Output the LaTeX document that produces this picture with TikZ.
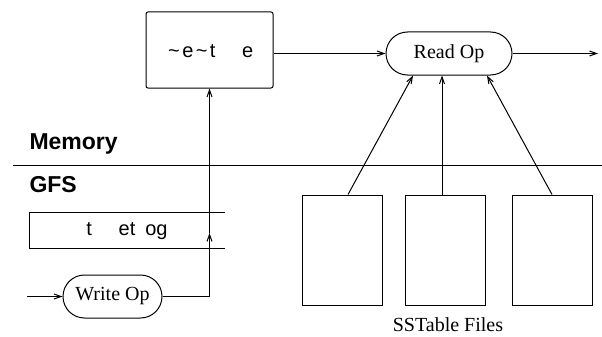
\documentclass[tikz,border=0pt]{standalone}
\usepackage{fontspec}
\setmainfont{Liberation Serif}
\newfontfamily\helv{Liberation Sans}
\usetikzlibrary{arrows.meta,calc}
\newcommand{\brokenm}{\makebox[0.83em]{\char"7E}}
\tikzset{
  fbox/.style={draw, line width=1pt, inner sep=0pt},
  opnode/.style={draw, line width=1pt, rounded corners=21.5pt, minimum height=43pt,
    inner sep=0pt, font=\fontsize{20}{24}\selectfont},
  layer/.style={anchor=base west, inner sep=0pt, font=\helv\bfseries\fontsize{23}{27}\selectfont},
}
\begin{document}
\begin{tikzpicture}[>={Straight Barb[length=7pt,width=5pt]},x=1pt,y=-1pt,line width=1pt]
  \useasboundingbox (0,0) rectangle (602,337);
  % memory side
  \node[fbox, rounded corners=2pt, minimum width=127pt, minimum height=76pt,
    font=\helv\fontsize{20}{24}\selectfont] (mem) at (209.5,50)
    {\brokenm e\brokenm t\phantom{abl}e};
  \node[opnode, minimum width=126pt] (rop) at (449,53.5) {Read Op};
  \node[layer] (memlbl) at (29,149) {Memory};
  \node[layer] (gfslbl) at (29,192) {GFS};
  \draw (13,165) -- (602,165);
  % tablet log, open on the right
  \draw (225,212) -- (29,212) -- (29,248) -- (225,248);
  \node[font=\helv\fontsize{20}{24}\selectfont] (logtxt) at (127,230)
    {t\phantom{abl}et\ \phantom{l}og};
  \node[opnode, minimum width=99pt] (wop) at (112.5,296.5) {Write Op};
  % sstables
  \node[fbox, minimum width=80pt, minimum height=110pt] (sst1) at (342,250) {};
  \node[fbox, minimum width=80pt, minimum height=110pt] (sst2) at (445,250) {};
  \node[fbox, minimum width=80pt, minimum height=110pt] (sst3) at (552,250) {};
  \node[anchor=base, inner sep=0pt, font=\fontsize{20}{24}\selectfont] (ssttxt)
    at (448,331) {SSTable Files};
  % connectors
  \coordinate (in) at (27,296.5);
  \coordinate (login) at (209.5,233);
  \coordinate (out) at (598,53.5);
  \draw[->] (in) -- (wop.west);
  \draw[->] (wop.east) -| (login);
  \draw[->] (login) -- (mem.south);
  \draw[->] (mem.east |- rop.west) -- (rop.west);
  \draw[->] (rop.east) -- (out);
  \draw[->] ($(sst1.north)+(6,0)$) -- ($(rop.south)+(-36,0)$);
  \draw[->] ($(sst2.north)+(-3,0)$) -- ($(rop.south)+(-7,0)$);
  \draw[->] (sst3.north) -- ($(rop.south)+(38,0)$);
\end{tikzpicture}
\end{document}
